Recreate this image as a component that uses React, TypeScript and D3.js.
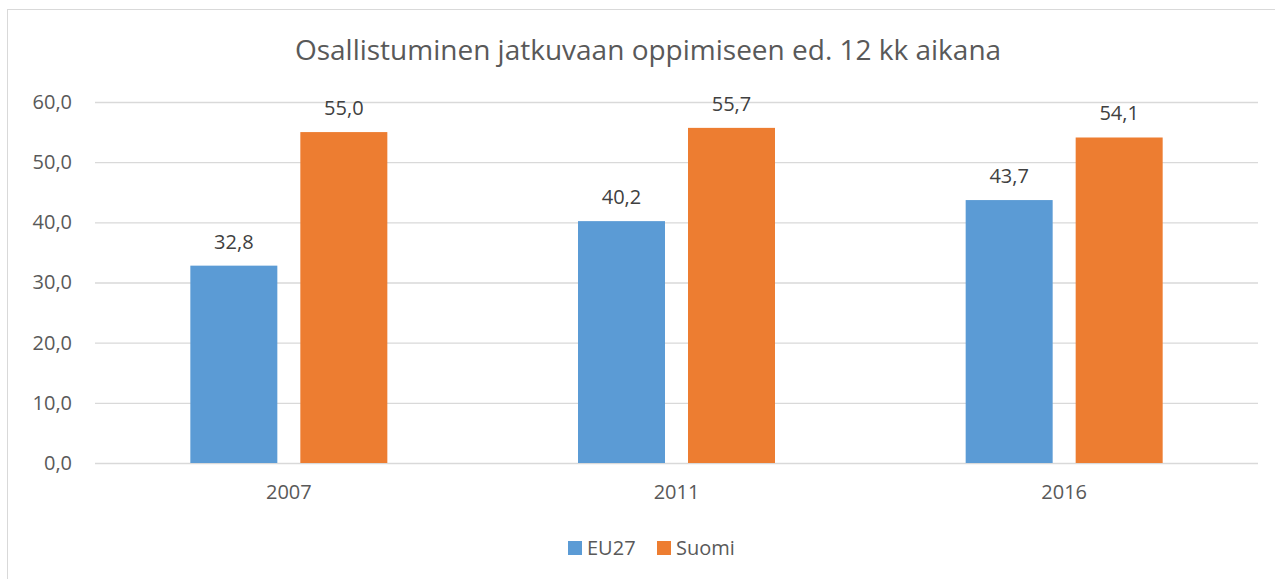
import React, { useRef, useEffect } from "react";
import * as d3 from "d3";

const years = ["2007", "2011", "2016"];
const seriesNames = ["EU27", "Suomi"];
const eu27 = [32.8, 40.2, 43.7];
const suomi = [55.0, 55.7, 54.1];
const yTicks = [0, 10, 20, 30, 40, 50, 60];
const colors = ["#5b9bd5", "#ed7d31"];

const fmt = (v: number) => v.toFixed(1).replace(".", ",");

const App = () => {
  const ref = useRef<SVGSVGElement>(null);

  useEffect(() => {
    const svg = d3.select(ref.current);
    svg.selectAll("*").remove();
    const font = "'Open Sans', sans-serif";

    // outer chart border
    svg
      .append("rect")
      .attr("x", 7.5)
      .attr("y", 9.5)
      .attr("width", 1300)
      .attr("height", 600)
      .attr("fill", "#fff")
      .attr("stroke", "#d9d9d9");

    const x0 = d3.scaleBand().domain(years).range([95, 1258]).padding(0);
    const x1 = d3
      .scaleBand()
      .domain(seriesNames)
      .range([0, 197])
      .paddingInner(23 / 110)
      .paddingOuter(0);
    const y = d3.scaleLinear().domain([0, 60]).range([463, 102]);

    const yAxis = d3
      .axisLeft(y)
      .tickValues(yTicks)
      .tickSize(-(1258 - 95))
      .tickPadding(23)
      .tickFormat((d) => fmt(d as number));
    const gy = svg.append("g").attr("transform", "translate(95,0)").call(yAxis);
    gy.select(".domain").remove();
    gy.selectAll(".tick line").attr("stroke", "#d9d9d9").attr("stroke-width", 1.3);
    gy.selectAll(".tick text")
      .attr("fill", "#595959")
      .style("font-family", font)
      .style("font-size", "20px");

    const xAxis = d3.axisBottom(x0).tickSize(0).tickPadding(22);
    const gx = svg.append("g").attr("transform", "translate(0,463)").call(xAxis);
    gx.select(".domain").remove();
    gx.selectAll(".tick text")
      .attr("fill", "#595959")
      .style("font-family", font)
      .style("font-size", "20px");

    const data = years.map((yr, i) => ({ yr, vals: [eu27[i], suomi[i]] }));
    const groups = svg
      .selectAll(".grp")
      .data(data)
      .join("g")
      .attr("class", "grp")
      .attr("transform", (d) => `translate(${x0(d.yr)! + (x0.bandwidth() - 197) / 2},0)`);

    groups
      .selectAll("rect")
      .data((d) => d.vals.map((v, k) => ({ v, k })))
      .join("rect")
      .attr("x", (d) => x1(seriesNames[d.k])!)
      .attr("y", (d) => y(d.v))
      .attr("width", x1.bandwidth())
      .attr("height", (d) => y(0) - y(d.v))
      .attr("fill", (d) => colors[d.k]);

    groups
      .selectAll("text")
      .data((d) => d.vals.map((v, k) => ({ v, k })))
      .join("text")
      .attr("x", (d) => x1(seriesNames[d.k])! + x1.bandwidth() / 2)
      .attr("y", (d) => y(d.v) - 17)
      .attr("text-anchor", "middle")
      .attr("fill", "#404040")
      .style("font-family", font)
      .style("font-size", "20px")
      .text((d) => fmt(d.v));

    svg
      .append("text")
      .attr("x", 648)
      .attr("y", 60)
      .attr("text-anchor", "middle")
      .attr("fill", "#595959")
      .style("font-family", font)
      .style("font-size", "28px")
      .text("Osallistuminen jatkuvaan oppimiseen ed. 12 kk aikana");

    // legend
    const legendX = [568, 657];
    const lg = svg
      .selectAll(".lg")
      .data(seriesNames)
      .join("g")
      .attr("class", "lg")
      .attr("transform", (d, i) => `translate(${legendX[i]},541)`);
    lg.append("rect").attr("width", 14).attr("height", 14).attr("fill", (d, i) => colors[i]);
    lg.append("text")
      .attr("x", 19)
      .attr("y", 14)
      .attr("fill", "#595959")
      .style("font-family", font)
      .style("font-size", "20px")
      .text((d) => d);
  }, []);

  return (
    <svg
      ref={ref}
      width={1275}
      height={579}
      style={{ position: "absolute", left: 0, top: 0, display: "block" }}
    />
  );
};

export default App;
